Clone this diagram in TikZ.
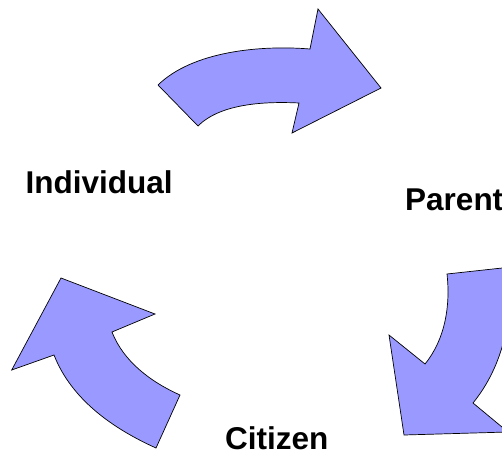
\documentclass[tikz,border=0pt]{standalone}
\usepackage{fontspec}
\setmainfont{Liberation Sans}
\definecolor{arrowblue}{HTML}{9999FF}
\tikzset{
	roundarrow/.style={fill=arrowblue,draw=black,line width=0.7pt,line join=miter},
	rolelabel/.style={font=\fontsize{31.5}{37}\selectfont\bfseries,inner sep=0pt,anchor=base west}
}
\begin{document}
\begin{tikzpicture}[x=1pt,y=-1pt]
	%					\draw[help lines, color=black, step=50pt,ultra thin](0,0)grid(502,452);
	\clip (0,0) rectangle (502,452);
	
	% Individual -> Parent
	\draw [roundarrow](158,85) .. controls (193,51) and (261,45) .. (310,49)
		--(318,9)--(381,88)--(292,133)--(299,103)
		.. controls (266.5,101.4) and (221,103) .. (198,126)--cycle;
	
	% Parent -> Citizen
	\draw [roundarrow](447,274)--(508.6,267.3)
		.. controls (513.8,315.5) and (503.6,365.3) .. (473,403)
		--(508,432)--(404,435)--(389,335)--(425,364)
		.. controls (445.2,339.1) and (450.5,305.8) .. (447,274)--cycle;
	
	% Citizen -> Individual
	\draw [roundarrow](156,448)--(180,395)
		.. controls (150.9,381.9) and (123.7,361.8) .. (112,332)
		--(155,314)--(61,278)--(11.7,370)--(54,355)
		.. controls (71.4,399.4) and (112.6,428.4) .. (156,448)--cycle;
	
	\node (individual) at (25.5,193)[rolelabel]{Individual};
	\node (parent) at (405,210)[rolelabel]{Parent};
	\node (citizen) at (225,449)[rolelabel]{Citizen};
\end{tikzpicture}
\end{document}
